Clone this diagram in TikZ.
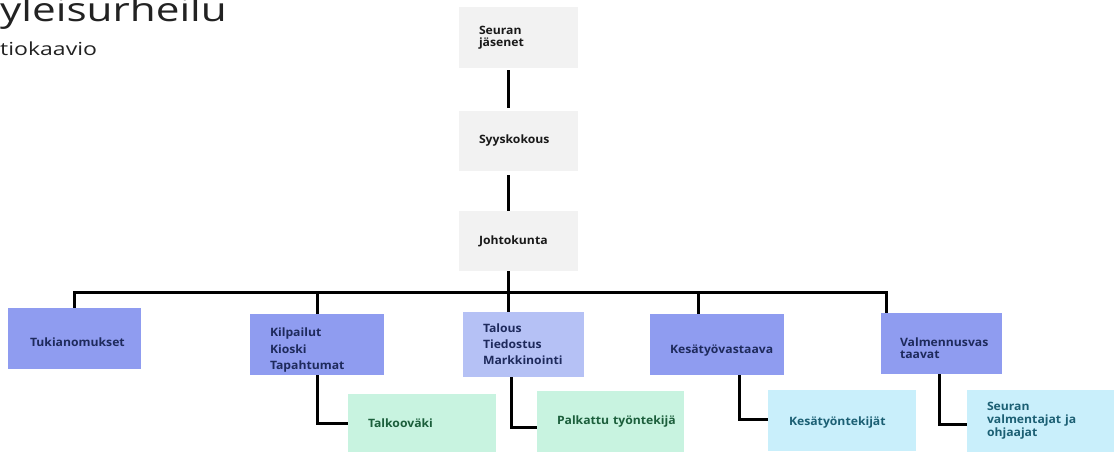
\documentclass[tikz,border=0pt]{standalone}
\usepackage{fontspec}
\setmainfont{Open Sans}
\newfontfamily\boxf{Open Sans}[FakeStretch=1.06, UprightFont=*-Bold, BoldFont=*-Bold]
\newfontfamily\titlef{Open Sans}[FakeStretch=1.28]
\definecolor{grayfill}{HTML}{F2F2F2}
\definecolor{bluefill}{HTML}{8F9CF0}
\definecolor{lbluefill}{HTML}{B5C1F5}
\definecolor{greenfill}{HTML}{C8F3E0}
\definecolor{cyanfill}{HTML}{C9EFFB}
\definecolor{navytext}{HTML}{1E2A5C}
\definecolor{greentext}{HTML}{1B5E3B}
\definecolor{cyantext}{HTML}{1B5F73}
\definecolor{titletext}{HTML}{222222}
\newcommand{\lowerby}[1]{\rule{0pt}{\dimexpr 9pt+#1\relax}}
\tikzset{
  box/.style={rectangle, inner xsep=20pt, inner ysep=0pt, align=left,
    font=\boxf\fontsize{11.5}{13}\selectfont},
  graybox/.style={box, fill=grayfill, text=black!90, font=\boxf\fontsize{11.5}{12}\selectfont},
  bluebox/.style={box, fill=bluefill, text=navytext},
  lbluebox/.style={box, fill=lbluefill, text=navytext},
  greenbox/.style={box, fill=greenfill, text=greentext},
  cyanbox/.style={box, fill=cyanfill, text=cyantext},
  conn/.style={draw=black, line width=3pt},
}
\begin{document}
\begin{tikzpicture}[x=1pt, y=-1pt]
\useasboundingbox (0,0) rectangle (1114,452);
% title
\node[anchor=base west, inner sep=0pt, font=\titlef\fontsize{33}{36}\selectfont, text=titletext] (t1) at (0,22) {yleisurheilu};
\node[anchor=base west, inner sep=0pt, font=\titlef\fontsize{18}{20}\selectfont, text=titletext] (t2) at (0,56) {tiokaavio};
% top boxes
\node[graybox, text width=79pt, minimum height=61pt] (sj) at (518.5,37.5) {Seuran\\jäsenet};
\node[graybox, text width=79pt, minimum height=60pt] (sy) at (518.5,141) {Syyskokous};
\node[graybox, text width=79pt, minimum height=60pt] (jo) at (518.5,241) {Johtokunta};
% second level
\node[bluebox, inner xsep=22pt, text width=89pt, minimum height=61pt] (tuk) at (74.5,338.5) {\lowerby{8pt}Tukianomukset};
\node[bluebox, text width=94pt, minimum height=61pt] (kil) at (317,344.5) {\lowerby{11pt}Kilpailut\\[3.5pt]Kioski\\[3.5pt]Tapahtumat};
\node[lbluebox, text width=81pt, minimum height=65pt] (tal) at (523.5,344.5) {Talous\\[3pt]Tiedostus\\[3pt]Markkinointi};
\node[bluebox, text width=94pt, minimum height=61pt] (kes) at (717,344.5) {\lowerby{12pt}\mbox{Kesätyövastaava}};
\node[bluebox, inner xsep=19pt, text width=83pt, minimum height=61pt] (val) at (941.5,343.5) {\lowerby{9pt}Valmennusvas\\[-1pt]taavat};
% third level
\node[greenbox, text width=108pt, minimum height=58pt] (talk) at (422,423) {Talkooväki};
\node[greenbox, text width=107pt, minimum height=61pt] (palk) at (610.5,421.5) {\mbox{Palkattu työntekijä}};
\node[cyanbox, inner xsep=21pt, text width=106pt, minimum height=61pt] (kt) at (842,420.5) {\lowerby{3pt}\mbox{Kesätyöntekijät}};
\node[cyanbox, text width=107pt, minimum height=62pt] (sv) at (1040.5,421) {Seuran\\\mbox{valmentajat ja}\\ohjaajat};
% helper coordinates
\coordinate (cx) at (508,0);
\coordinate (bus) at (508,292);
\coordinate (dk) at (698,0);
\coordinate (dv) at (886,0);
\coordinate (xa) at (511,0);
\coordinate (xb) at (739,0);
\coordinate (xc) at (939,0);
% connectors
\draw[conn, shorten <=2pt, shorten >=3pt] (sj.south -| cx) -- (sy.north -| cx);
\draw[conn, shorten <=4pt] (sy.south -| cx) -- (jo.north -| cx);
\draw[conn] (jo.south -| cx) -- (bus) -- (tal.north -| cx);
\draw[conn] (tuk.north) |- (bus -| dv) -- (val.north -| dv);
\draw[conn] (kil.north) -- (kil.north |- bus);
\draw[conn] (kes.north -| dk) -- (bus -| dk);
\draw[conn] (kil.south) |- (talk.west);
\draw[conn] (tal.south -| xa) |- ([yshift=-6pt]palk.west);
\draw[conn] (kes.south -| xb) |- ([yshift=1pt]kt.west);
\draw[conn] (val.south -| xc) |- ([yshift=-3pt]sv.west);
\end{tikzpicture}
\end{document}
